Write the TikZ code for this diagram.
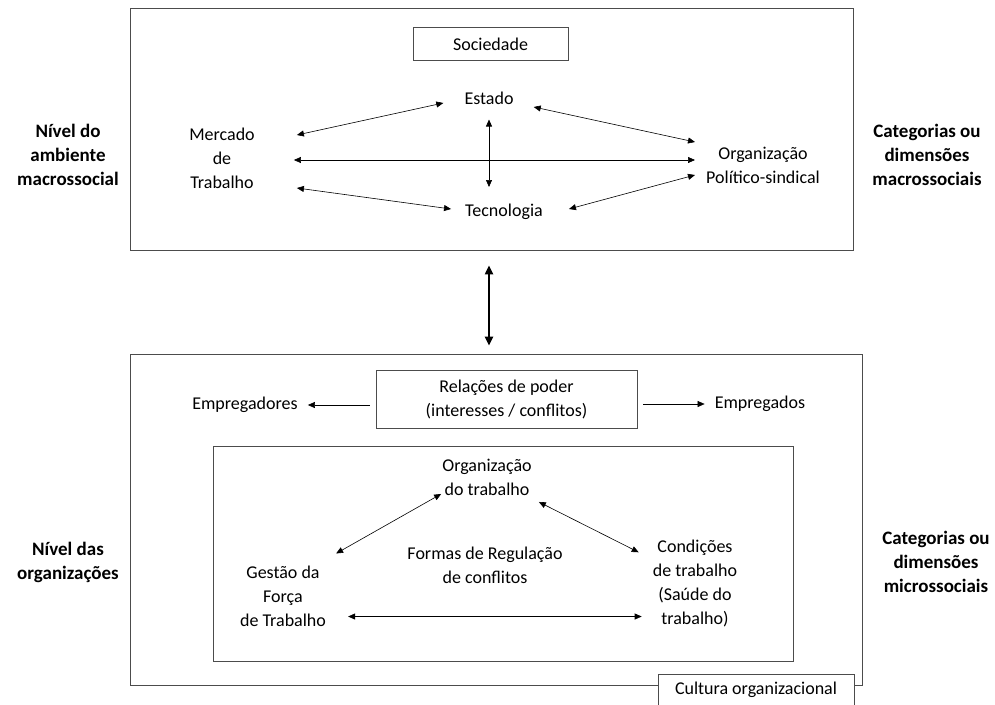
\documentclass[tikz,border=0pt]{standalone}
\usepackage{fontspec}
\setmainfont{Carlito}
\usetikzlibrary{arrows.meta,calc,positioning}

\begin{document}
\begin{tikzpicture}[x=1pt,y=-1pt,
  every node/.style={font=\fontsize{18}{24}\selectfont, align=center, inner sep=2pt},
  frame/.style={draw=black!70, line width=0.9pt},
  lbl/.style={font=\bfseries\fontsize{19}{24}\selectfont},
  biarrow/.style={{Triangle[length=7pt,width=6pt]}-{Triangle[length=7pt,width=6pt]}, line width=0.6pt},
  onearrow/.style={-{Triangle[length=7pt,width=6pt]}, line width=0.6pt},
  bigarrow/.style={{Triangle[length=9pt,width=8pt]}-{Triangle[length=9pt,width=8pt]}, line width=2.2pt}]
\useasboundingbox (0,0) rectangle (995,704);

\node[frame, minimum width=723pt, minimum height=242pt] (macro) at (491.5,129) {};
\node[frame, minimum width=155pt, minimum height=33pt] (soc) at (490.5,44) {Sociedade};
\node (estado) at (489,98) {Estado};
\node (tec) at (504,212) {Tecnologia};
\node (merc) at (222,158) {Mercado\\de\\Trabalho};
\node (orgps) at (763,165) {Organização\\Político-sindical};
\node[lbl] (nivmacro) at (68,155) {Nível do\\ambiente\\macrossocial};
\node[lbl] (catmacro) at (927,155) {Categorias ou\\dimensões\\macrossociais};

\draw[biarrow] ($(merc.east)+(40,-23)$) -- ($(estado.west)+(-19,5)$);
\draw[biarrow] ($(estado.east)+(18,9)$) -- ($(orgps.west)+(-9,-23)$);
\draw[biarrow, shorten <=37pt, shorten >=9pt] ($(merc.east)+(0,2)$) -- ($(merc.east -| orgps.west)+(0,2)$);
\draw[biarrow, shorten <=13pt, shorten >=15pt] (estado.south) -- (estado.south |- tec.north);
\draw[biarrow] ($(merc.east)+(40,30)$) -- ($(tec.west)+(-12,-3)$);
\draw[biarrow] ($(tec.east)+(24,-3)$) -- ($(orgps.west)+(-9,10)$);

\node[frame, minimum width=732pt, minimum height=331pt] (micro) at (496,519.5) {};
\draw[bigarrow, shorten <=15pt, shorten >=8pt] (estado |- macro.south) -- (estado |- micro.north);

\node[frame, minimum width=261pt, minimum height=58pt] (poder) at (506.5,399) {Relações de poder\\(interesses / conflitos)};
\node (empreg) at (245,405) {Empregadores};
\node (empdos) at (760,404) {Empregados};
\draw[onearrow, shorten <=6pt, shorten >=8pt] (poder.west |- empreg.east) -- (empreg.east);
\draw[onearrow, shorten <=6pt, shorten >=8pt] (poder.east |- empdos.west) -- (empdos.west);

\node[frame, minimum width=580pt, minimum height=215pt] (regbox) at (503,553.5) {};
\node (orgtrab) at (487,477.5) {Organização\\do trabalho};
\node (gestao) at (283,596) {Gestão da\\Força\\de Trabalho};
\node (formas) at (485,565) {Formas de Regulação\\de conflitos};
\node (cond) at (695,583) {Condições\\de trabalho\\(Saúde do\\trabalho)};
\draw[biarrow] ($(gestao.north east)+(8,-10)$) -- ($(orgtrab.south west)+(1,-4)$);
\draw[biarrow] ($(orgtrab.south east)+(5,4)$) -- ($(cond.north west)+(-12,15)$);
\coordinate (gfl) at ($(gestao.south east)+(20,-12)$);
\draw[biarrow, shorten >=9pt] (gfl) -- (gfl -| cond.west);

\node[frame, fill=white, minimum width=196pt, minimum height=34pt, anchor=north west] (cultura) at (658,674) {};
\node (culturatxt) at (756,690) {Cultura organizacional};
\node[lbl] (nivmicro) at (68,562) {Nível das\\organizações};
\node[lbl] (catmicro) at (936,562) {Categorias ou\\dimensões\\microssociais};
\end{tikzpicture}
\end{document}
